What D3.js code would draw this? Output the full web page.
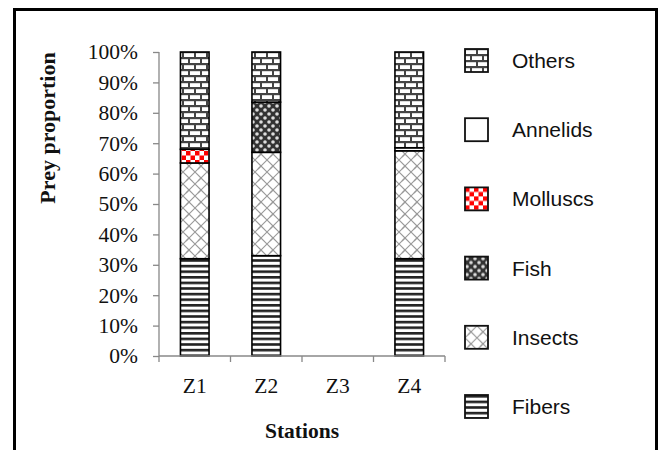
<!DOCTYPE html>
<html>
<head>
<meta charset="utf-8">
<script src="https://cdn.jsdelivr.net/npm/d3@7"></script>
<style>
body { margin: 0; background: #fff; }
svg { display: block; }
</style>
</head>
<body>
<div id="chart-area"></div>
<script>
// stations and prey categories (bottom to top)
var stations = ["Z1", "Z2", "Z3", "Z4"];
var preyTypes = ["Fibers", "Insects", "Fish", "Molluscs", "Annelids", "Others"];

// proportions (%) per station
var fibers   = [32, 33, 0, 32];
var insects  = [31.5, 34, 0, 35.5];
var fish     = [0, 16.5, 0, 0];
var molluscs = [4.5, 0, 0, 0];
var annelids = [0, 0, 0, 1];
var others   = [32, 16.5, 0, 31.5];

var yTicks = [0, 10, 20, 30, 40, 50, 60, 70, 80, 90, 100];
var legendOrder = ["Others", "Annelids", "Molluscs", "Fish", "Insects", "Fibers"];

var seriesValues = {
	Fibers: fibers, Insects: insects, Fish: fish,
	Molluscs: molluscs, Annelids: annelids, Others: others
};

var W = 661, H = 450;
var margin = { left: 159, top: 52, right: 216, bottom: 94 };
var width = W - margin.left - margin.right;
var height = H - margin.top - margin.bottom;

var svg = d3.select("#chart-area")
	.append("svg")
	.attr("width", W)
	.attr("height", H);

// fill patterns
var defs = svg.append("defs");

var pFibers = defs.append("pattern").attr("id", "p-Fibers")
	.attr("patternUnits", "userSpaceOnUse").attr("width", 6).attr("height", 5.6);
pFibers.append("rect").attr("width", 6).attr("height", 5.6).attr("fill", "#fff");
pFibers.append("rect").attr("y", 0).attr("width", 6).attr("height", 2.6).attr("fill", "#222");

var pInsects = defs.append("pattern").attr("id", "p-Insects")
	.attr("patternUnits", "userSpaceOnUse").attr("width", 12).attr("height", 12);
pInsects.append("rect").attr("width", 12).attr("height", 12).attr("fill", "#fff");
pInsects.append("path")
	.attr("d", "M0,12 L12,0 M-3,3 L3,-3 M9,15 L15,9 M0,0 L6,6 M6,6 L12,12")
	.attr("stroke", "#999").attr("stroke-width", 1.1).attr("fill", "none");
pInsects.append("path")
	.attr("d", "M3,9 L6,6")
	.attr("stroke", "#999").attr("stroke-width", 1.1);

var pMolluscs = defs.append("pattern").attr("id", "p-Molluscs")
	.attr("patternUnits", "userSpaceOnUse").attr("width", 9).attr("height", 9);
pMolluscs.append("rect").attr("width", 9).attr("height", 9).attr("fill", "#fff");
pMolluscs.append("rect").attr("width", 4.5).attr("height", 4.5).attr("fill", "#f00");
pMolluscs.append("rect").attr("x", 4.5).attr("y", 4.5).attr("width", 4.5).attr("height", 4.5).attr("fill", "#f00");

var pFish = defs.append("pattern").attr("id", "p-Fish")
	.attr("patternUnits", "userSpaceOnUse").attr("width", 8).attr("height", 8);
pFish.append("rect").attr("width", 8).attr("height", 8).attr("fill", "#333");
pFish.append("circle").attr("cx", 2).attr("cy", 2).attr("r", 1.8).attr("fill", "#ddd");
pFish.append("circle").attr("cx", 6).attr("cy", 6).attr("r", 1.8).attr("fill", "#ddd");

var pOthers = defs.append("pattern").attr("id", "p-Others")
	.attr("patternUnits", "userSpaceOnUse").attr("width", 12).attr("height", 12);
pOthers.append("rect").attr("width", 12).attr("height", 12).attr("fill", "#444");
pOthers.append("rect").attr("x", 1).attr("y", 1.2).attr("width", 10).attr("height", 3.8).attr("fill", "#fff");
pOthers.append("rect").attr("x", -5).attr("y", 7.2).attr("width", 10).attr("height", 3.8).attr("fill", "#fff");
pOthers.append("rect").attr("x", 7).attr("y", 7.2).attr("width", 10).attr("height", 3.8).attr("fill", "#fff");

function fillFor(name) {
	return name === "Annelids" ? "#fff" : "url(#p-" + name + ")";
}

// outer frame
svg.append("rect")
	.attr("x", 14.5).attr("y", 9.5)
	.attr("width", 642).attr("height", 460)
	.attr("fill", "none")
	.attr("stroke", "#000")
	.attr("stroke-width", 3);

var g = svg.append("g")
	.attr("transform", "translate(" + margin.left + ", " + margin.top + ")");

// Scales
var x = d3.scaleBand()
	.domain(stations)
	.range([0, width])
	.paddingInner(0.6)
	.paddingOuter(0.3);
var y = d3.scaleLinear()
	.domain([0, 100])
	.range([height, 0]);

// stacked data
var table = stations.map(function(s, i){
	var row = { station: s };
	preyTypes.forEach(function(p){ row[p] = seriesValues[p][i]; });
	return row;
});
var stacked = d3.stack().keys(preyTypes)(table);

stacked.forEach(function(layer){
	g.selectAll(".bar-" + layer.key)
		.data(layer.filter(function(d){ return d[1] - d[0] > 0; }))
		.enter()
		.append("rect")
		.attr("x", function(d){ return x(d.data.station); })
		.attr("y", function(d){ return y(d[1]); })
		.attr("width", x.bandwidth())
		.attr("height", function(d){ return y(d[0]) - y(d[1]); })
		.attr("fill", fillFor(layer.key))
		.attr("stroke", "#000")
		.attr("stroke-width", 1.6);
});

// Axes
var yAxisCall = d3.axisLeft(y)
	.tickValues(yTicks)
	.tickSize(6)
	.tickPadding(15)
	.tickFormat(function(d){ return d + "%"; });
var yAxisGroup = g.append("g").call(yAxisCall);

var xStep = width / stations.length;
var xAxisGroup = g.append("g")
	.attr("transform", "translate(0, " + height + ")");
xAxisGroup.append("line")
	.attr("x1", 0).attr("x2", width)
	.attr("stroke", "#888").attr("stroke-width", 1.3);
d3.range(stations.length + 1).forEach(function(i){
	xAxisGroup.append("line")
		.attr("x1", i * xStep).attr("x2", i * xStep)
		.attr("y1", 0).attr("y2", 6)
		.attr("stroke", "#888").attr("stroke-width", 1.3);
});
xAxisGroup.selectAll(".xlab")
	.data(stations)
	.enter()
	.append("text")
	.attr("x", function(d){ return x(d) + x.bandwidth() / 2; })
	.attr("y", 37)
	.attr("text-anchor", "middle")
	.attr("font-family", "Liberation Serif, Times New Roman, serif")
	.attr("font-size", 21.5)
	.attr("fill", "#111")
	.text(function(d){ return d; });

yAxisGroup.select(".domain").attr("stroke", "#888").attr("stroke-width", 1.3)
	.attr("d", "M0," + height + "V0");
yAxisGroup.selectAll(".tick line").attr("stroke", "#888").attr("stroke-width", 1.3);
yAxisGroup.selectAll(".tick text")
	.attr("font-family", "Liberation Serif, Times New Roman, serif")
	.attr("font-size", 21.5)
	.attr("fill", "#111");

// axis titles
svg.append("text")
	.attr("x", -128)
	.attr("y", 55)
	.attr("transform", "rotate(-90)")
	.attr("text-anchor", "middle")
	.attr("font-family", "Liberation Serif, Times New Roman, serif")
	.attr("font-weight", "bold")
	.attr("font-size", 22)
	.attr("fill", "#111")
	.text("Prey proportion");

g.append("text")
	.attr("x", width / 2)
	.attr("y", height + 82)
	.attr("text-anchor", "middle")
	.attr("font-family", "Liberation Serif, Times New Roman, serif")
	.attr("font-weight", "bold")
	.attr("font-size", 21.5)
	.attr("fill", "#111")
	.text("Stations");

// Legend
var legendRowHeight = 69.2;
var legend = svg.append("g")
	.attr("transform", "translate(465, 49)");

legendOrder.forEach(function(name, i){
	var row = legend.append("g")
		.attr("transform", "translate(0, " + i * legendRowHeight + ")");
	row.append("rect")
		.attr("width", 23)
		.attr("height", 23)
		.attr("fill", fillFor(name))
		.attr("stroke", "#111")
		.attr("stroke-width", 1.8);
	row.append("text")
		.attr("x", 47)
		.attr("y", 19)
		.attr("font-family", "Liberation Sans, Arial, sans-serif")
		.attr("font-size", 21)
		.attr("fill", "#111")
		.text(name);
});
</script>
</body>
</html>
